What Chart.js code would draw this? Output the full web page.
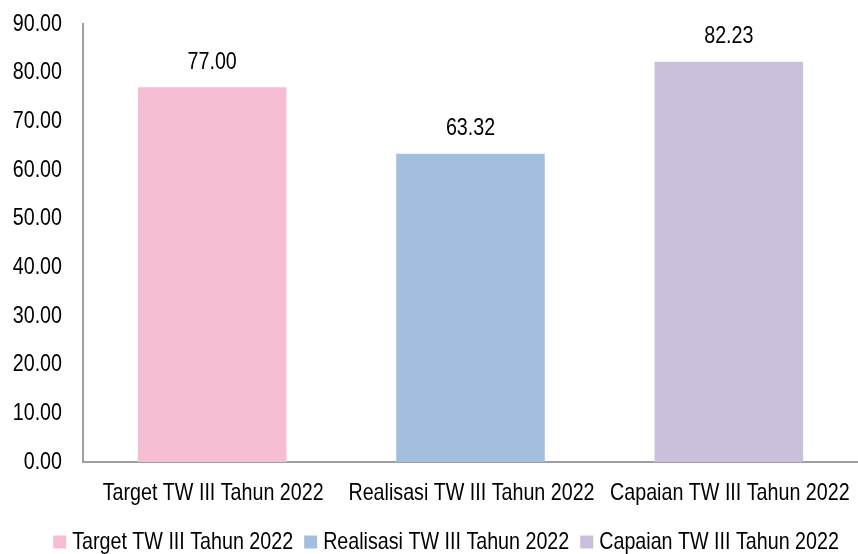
<!DOCTYPE html>
<html>
<head>
<meta charset="utf-8">
<script src="https://cdn.jsdelivr.net/npm/chart.js@4"></script>
<style>
  html, body { margin: 0; padding: 0; background: #fff; }
  #wrap { width: 858px; height: 554px; }
</style>
</head>
<body>
<div id="wrap"><canvas id="chart"></canvas></div>
<script>
const categories = ["Target TW III Tahun 2022", "Realisasi TW III Tahun 2022", "Capaian TW III Tahun 2022"];
const values = [77.00, 63.32, 82.23];
const barColors = ["#f5bed4", "#a4bfde", "#cbc0dc"];
const yMin = 0;
const yMax = 90;
const yStep = 10;

const FONT = "24px 'Liberation Sans', Arial, sans-serif";
const SQUEEZE = 0.82; // narrow look for all labels

function narrowText(ctx, text, x, y, align) {
  ctx.save();
  ctx.translate(x, y);
  ctx.scale(SQUEEZE, 1);
  ctx.textAlign = align;
  ctx.fillText(text, 0, 0);
  ctx.restore();
}

function narrowWidth(ctx, text) {
  return ctx.measureText(text).width * SQUEEZE;
}

// tick labels, value labels and legend, all in condensed text
const labelsPlugin = {
  id: "narrowLabels",
  afterDraw(chart) {
    const ctx = chart.ctx;
    const { x, y } = chart.scales;
    const area = chart.chartArea;
    ctx.save();
    ctx.font = FONT;
    ctx.fillStyle = "#000";
    ctx.textBaseline = "middle";

    y.ticks.forEach((t) => {
      narrowText(ctx, t.value.toFixed(2), area.left - 21, y.getPixelForValue(t.value), "right");
    });

    categories.forEach((c, i) => {
      narrowText(ctx, c, x.getPixelForTick(i) + 1, area.bottom + 31, "center");
    });

    chart.getDatasetMeta(0).data.forEach((bar, i) => {
      narrowText(ctx, values[i].toFixed(2), bar.x, bar.y - 25, "center");
    });

    // legend row
    const box = 13, gap = 6, itemGap = 11;
    const widths = categories.map((c) => narrowWidth(ctx, c));
    const total = widths.reduce((s, w) => s + box + gap + w, 0) + itemGap * (categories.length - 1);
    let lx = 446 - total / 2;
    const ly = 542;
    categories.forEach((c, i) => {
      ctx.fillStyle = barColors[i];
      ctx.fillRect(lx, ly - box / 2, box, box);
      ctx.fillStyle = "#000";
      narrowText(ctx, c, lx + box + gap, ly, "left");
      lx += box + gap + widths[i] + itemGap;
    });
    ctx.restore();
  },
};

new Chart(document.getElementById("chart"), {
  type: "bar",
  data: {
    labels: categories,
    datasets: [
      {
        data: values,
        backgroundColor: barColors,
        barPercentage: 0.575,
        categoryPercentage: 1,
      },
    ],
  },
  options: {
    responsive: true,
    maintainAspectRatio: false,
    animation: false,
    layout: { padding: { top: 24, right: -3, left: 83, bottom: 92 } },
    plugins: {
      tooltip: { enabled: false },
      legend: { display: false },
    },
    scales: {
      x: {
        grid: { display: false },
        border: { display: true, color: "#a0a0a0", width: 2 },
        ticks: { display: false },
        afterFit: (s) => { s.height = 0; },
      },
      y: {
        min: yMin,
        max: yMax,
        grid: { display: false },
        border: { display: true, color: "#a0a0a0", width: 2 },
        ticks: { display: false, stepSize: yStep },
        afterFit: (s) => { s.width = 0; },
      },
    },
  },
  plugins: [labelsPlugin],
});
</script>
</body>
</html>
